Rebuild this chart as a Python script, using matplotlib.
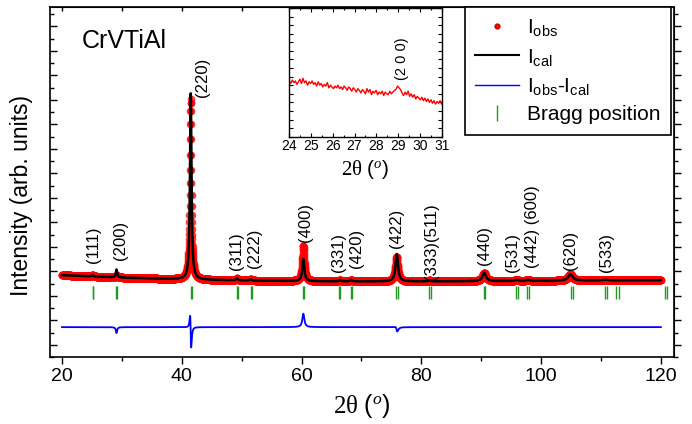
import numpy as np
import matplotlib.pyplot as plt
from matplotlib.lines import Line2D
from matplotlib.ticker import MultipleLocator, NullFormatter

plt.rcParams['font.family'] = 'Liberation Sans'
plt.rcParams['mathtext.fontset'] = 'custom'
plt.rcParams['mathtext.rm'] = 'Liberation Sans'
plt.rcParams['mathtext.it'] = 'Liberation Serif:italic'
plt.rcParams['mathtext.bf'] = 'Liberation Sans:bold'

# background level
bg_two_theta = [20, 30, 40, 50, 60, 80, 100, 120]
bg_level = [2.85, 2.74, 2.66, 2.63, 2.61, 2.59, 2.60, 2.64]

# calculated (refined) peaks: position, height, fwhm
cal_pos = [25.1, 29.1, 41.5, 49.2, 51.5, 60.3, 66.4, 68.3, 75.9, 81.4, 90.5, 95.9, 97.8, 104.9, 110.8]
cal_height = [0.06, 0.32, 7.6, 0.08, 0.05, 0.9, 0.05, 0.06, 1.12, 0.04, 0.34, 0.04, 0.04, 0.26, 0.03]
cal_fwhm = [0.3, 0.25, 0.3, 0.35, 0.35, 0.4, 0.4, 0.4, 0.5, 0.5, 0.7, 0.7, 0.7, 0.9, 0.9]

# observed peaks
obs_pos = [25.1, 29.1, 41.48, 49.2, 51.5, 60.3, 66.4, 68.3, 75.87, 81.4, 90.5, 95.9, 97.8, 104.9, 110.8]
obs_height = [0.06, 0.08, 7.35, 0.08, 0.05, 1.45, 0.05, 0.06, 1.0, 0.04, 0.34, 0.04, 0.04, 0.26, 0.03]
obs_fwhm = cal_fwhm

diff_offset = 0.72

# Bragg positions (K-alpha1 / K-alpha2)
bragg_k1 = [25.10, 29.08, 41.58, 49.18, 51.53, 60.26, 66.32, 68.27, 75.85, 81.35, 90.40,
            95.80, 97.63, 104.97, 110.64, 112.58, 120.62]
bragg_k2 = [25.16, 29.15, 41.68, 49.32, 51.67, 60.42, 66.50, 68.45, 76.07, 81.61, 90.68,
            96.12, 97.96, 105.35, 111.04, 112.99, 121.10]

# hkl labels: text, x, bottom y
hkl_text = ['(111)', '(200)', '(220)', '(311)', '(222)', '(400)', '(331)', '(420)', '(422)',
            '(333)(511)', '(440)', '(531)', '(442) (600)', '(620)', '(533)']
hkl_x = [25.2, 29.7, 43.5, 49.2, 52.2, 60.6, 66.1, 69.2, 75.9, 81.7, 90.6, 95.3, 98.5, 104.9, 110.9]
hkl_y = [3.34, 3.46, 10.11, 3.05, 3.13, 4.19, 2.98, 3.13, 3.95, 2.64, 3.26, 2.97, 3.13, 3.05, 2.97]

# inset: observed counts between 24 and 31 deg
inset_y = [6.5, 6.2, 6.6, 6.3, 6.5, 6.1, 6.4, 6.7, 6.2, 6.8,
           6.3, 6.5, 6.0, 6.4, 6.2, 6.5, 6.1, 6.3, 5.9, 6.4,
           6.0, 6.2, 5.8, 6.1, 5.9, 6.3, 5.7, 6.0, 5.8, 5.6,
           5.9, 5.7, 6.0, 5.6, 5.8, 5.5, 5.9, 5.7, 5.4, 5.8,
           5.6, 5.3, 5.7, 5.5, 5.2, 5.6, 5.4, 5.1, 5.5, 5.3,
           5.0, 5.6, 5.2, 5.5, 4.9, 5.3, 5.1, 5.4, 4.9, 5.2,
           5.0, 5.3, 4.8, 5.2, 5.0, 4.9, 5.3, 5.0, 5.2, 5.4,
           5.5, 5.9, 5.7, 5.5, 5.1, 4.8, 5.2, 4.9, 5.3, 4.7,
           5.0, 4.6, 4.9, 4.4, 4.7, 4.5, 4.3, 4.6, 4.2, 4.5,
           4.1, 4.4, 4.0, 4.3, 3.9, 4.2, 3.8, 4.1, 3.9, 4.2, 3.8]
inset_x = np.linspace(24, 31, len(inset_y))


def profile(x, pos, height, fwhm):
    y = np.polyval(np.polyfit(bg_two_theta, bg_level, 3), x)
    for p, h, w in zip(pos, height, fwhm):
        y = y + h / (1 + ((x - p) / (w / 2)) ** 2)
    return y


two_theta = np.arange(20, 120.001, 0.02)
y_obs = profile(two_theta, obs_pos, obs_height, obs_fwhm)
y_cal = profile(two_theta, cal_pos, cal_height, cal_fwhm)
y_diff = y_obs - y_cal + diff_offset

fig = plt.figure(figsize=(6.92, 4.24), dpi=100)
ax = fig.add_axes([0.0723, 0.158, 0.9017, 0.8255])

ax.plot(two_theta, y_obs, 'o', color='red', ms=5.5, mew=0, alpha=0.75, zorder=2)
ax.plot(two_theta, y_cal, color='black', lw=1.8, zorder=3)
ax.plot(two_theta, y_diff, color='blue', lw=1.3, zorder=3)
ax.vlines(bragg_k1 + bragg_k2, 1.87, 2.40, color='#229922', lw=1.0)

for t, x, y in zip(hkl_text, hkl_x, hkl_y):
    ax.text(x, y, t, rotation=90, ha='center', va='bottom', fontsize=12)

ax.text(23.3, 12.1, 'CrVTiAl', fontsize=18, va='baseline')

ax.set_xlim(18, 122.2)
ax.set_ylim(-0.5, 13.79)
ax.xaxis.set_major_locator(MultipleLocator(20))
ax.xaxis.set_minor_locator(MultipleLocator(10))
ax.yaxis.set_major_locator(MultipleLocator(1))
ax.yaxis.set_minor_locator(MultipleLocator(0.5))
ax.tick_params(axis='x', which='both', direction='out', top=False, labelsize=14, pad=3)
ax.tick_params(axis='y', which='both', direction='in', right=False, labelleft=False)
ax.tick_params(which='major', length=5, width=1)
ax.tick_params(which='minor', length=3, width=1)
for s in ax.spines.values():
    s.set_linewidth(1.2)

top = ax.secondary_xaxis('top')
top.xaxis.set_major_locator(MultipleLocator(10))
top.tick_params(direction='in', length=3, width=1, labeltop=False)
right = ax.secondary_yaxis('right')
right.yaxis.set_major_locator(MultipleLocator(1))
right.yaxis.set_minor_locator(MultipleLocator(0.5))
right.tick_params(which='both', direction='out', width=1, labelright=False)
right.tick_params(which='major', length=5)
right.tick_params(which='minor', length=3)

ax.set_xlabel('2θ $\\mathit{(^o)}$', family='Liberation Serif', fontsize=18, labelpad=5)
ax.set_ylabel('Intensity (arb. units)', fontsize=16.5)
ax.yaxis.set_label_coords(-0.027, 0.461)

handles = [Line2D([], [], ls='none', marker='o', color='red', mec='#cc0000', ms=3.5),
           Line2D([], [], color='black', lw=1.5),
           Line2D([], [], color='blue', lw=1.0),
           Line2D([], [], ls='none', marker='|', color='#229922', ms=11)]
labels = ['I$_{\\mathrm{obs}}$', 'I$_{\\mathrm{cal}}$',
          'I$_{\\mathrm{obs}}$-I$_{\\mathrm{cal}}$', 'Bragg position']
leg = ax.legend(handles, labels, loc='upper right', bbox_to_anchor=(671 / 692, 1 - 7 / 424),
                bbox_transform=fig.transFigure, borderaxespad=0, fontsize=15,
                fancybox=False, framealpha=1, edgecolor='black', handlelength=2.1,
                handletextpad=0.4, labelspacing=0.4, borderpad=0.5)
leg.get_frame().set_linewidth(1.2)

ins = fig.add_axes([0.418, 0.6776, 0.2202, 0.3035])
ins.plot(inset_x, inset_y, color='red', lw=1.0)
ins.text(29.16, 6.6, '(2 0 0)', rotation=90, ha='center', va='bottom', fontsize=10.5)
ins.set_xlim(24, 31)
ins.set_ylim(0, 15)
ins.xaxis.set_major_locator(MultipleLocator(1))
ins.xaxis.set_minor_locator(MultipleLocator(0.5))
ins.yaxis.set_major_locator(MultipleLocator(1))
ins.yaxis.set_major_formatter(NullFormatter())
ins.tick_params(which='both', direction='in', top=True, right=True, labelsize=10, pad=2)
ins.tick_params(which='major', length=3, width=0.8)
ins.tick_params(which='minor', length=1.5, width=0.8)
for s in ins.spines.values():
    s.set_linewidth(1.0)
ins.set_xlabel('2θ $\\mathit{(^o)}$', family='Liberation Serif', fontsize=15, labelpad=3)

fig.savefig('out.png', dpi=100)
